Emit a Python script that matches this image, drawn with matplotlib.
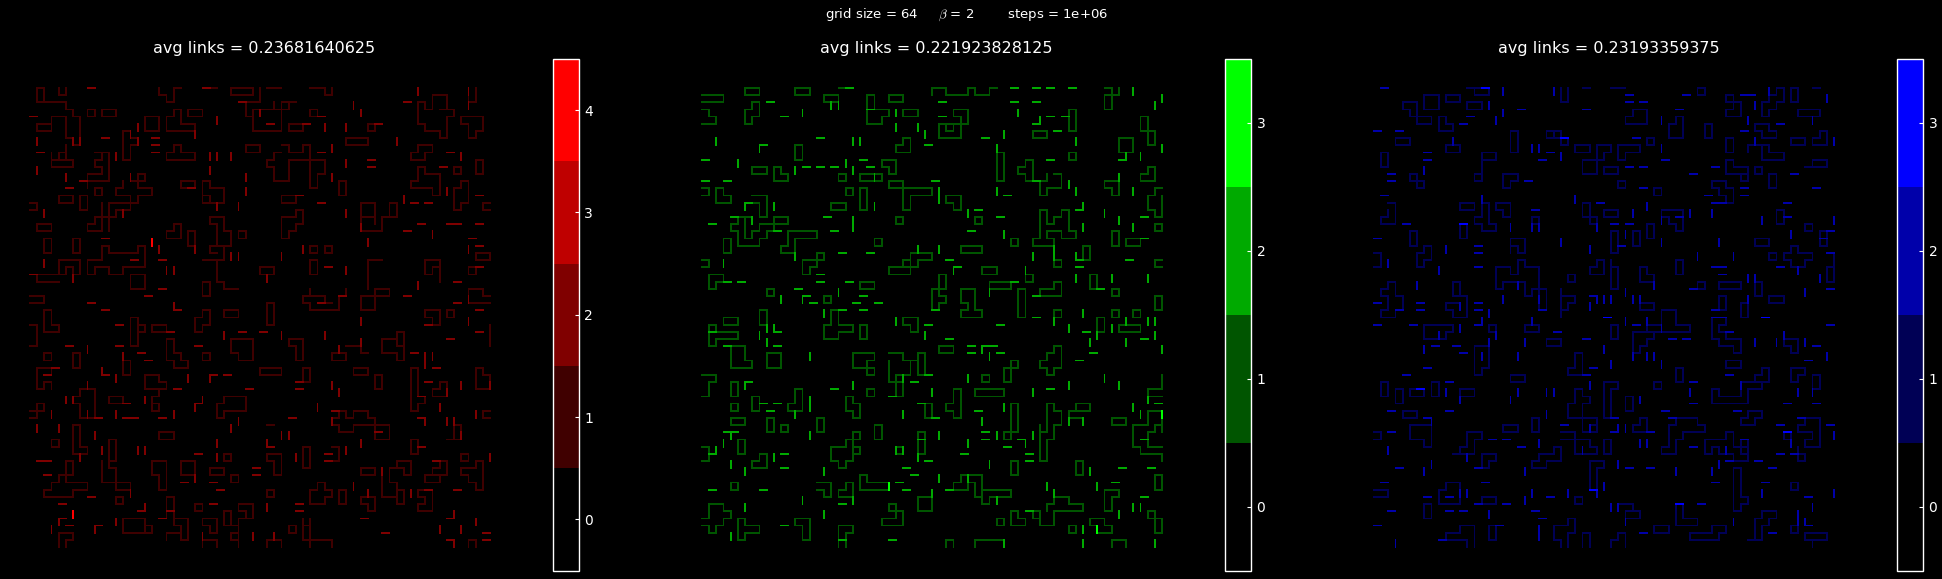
import numpy as np
import matplotlib
matplotlib.use("Agg")
import matplotlib.pyplot as plt
from matplotlib.colors import ListedColormap, BoundaryNorm
from matplotlib.cm import ScalarMappable

# links, as walks over the lattice: "col row moves"
red_loops = ["1 0 RDDLUU","2 2 RRRDRDRDDD","5 4 DDDRDRUUUU","3 4 RR","3 4 DD","1 5 RRDLL","1 5 D","4 0 DRU",
"18 0 DRDRUUR","25 0 R","28 0 RRRDLLLU","32 0 DDLL","30 2 DDRDDRRRRUUUURR","36 2 DLL","31 3 RRRU","31 3 D",
"33 0 RR","39 0 RRDRU","62 0 DDLU","54 2 RDRUURRDD","57 3 RRDLDDDLULLULUUU","54 2 DDD","39 3 RDLU","8 3 RDLU",
"10 3 RRDLLU","22 3 RRDLLU","20 3 RDDRRDLLLLUURU","16 4 RRDDLLUU","36 5 RRDLLU","47 5 RDLU","60 4 RRRDDLDLUULU",
"13 6 RDRDLDDLUUUU","19 9 RURDRRDLLLLU","3 9 DDRRRULLL","4 10 URU","5 8 DD","10 9 RDDDDLLL","8 12 RRULURUL","8 12 DD",
"15 12 RDLU","14 13 RDRRDLLDLULLURU","4 15 RRDLLU","7 15 RDDLUU","9 14 RDLU","0 16 RDL","1 19 RRDLLU",
"11 16 RRRDLLDLLLDLDRRUUUU","11 16 DDDD","21 13 RRDLLU","24 13 RDRRDDLLUL","24 13 DDDRU","30 8 RRDLLU","21 19 LDL","21 19 D",
"25 18 RRDDRDDLLLDR","27 22 DDL","25 18 D","25 19 RDDD","35 8 RDRRURDD","39 9 DDDDDRUURUULLLLL","36 10 DDDLLUULURUR",
"43 13 RDDLUU","44 7 RRRDLLLU","54 8 RRDLDLLURU","59 11 RDLU","62 10 RDDLUU","54 11 RDRRDDDLULLLURUU",
"60 13 RDDDLDLUUURU","64 16 LDR","46 16 RRDDLLUU","50 16 RDDLLDDLLLUUR","50 16 DD","48 19 U","35 15 RRDLLU","37 17 RDDLDLDLUUURRU",
"20 19 RDDLLURU","22 20 RDDLUU","2 21 RDDLUU","6 21 RDDLUU","29 20 RDLU","39 22 RDLU","41 22 RDLU","49 24 LLDDDD",
"39 24 RDDLUU","62 23 RRDLLU","55 24 RRDDD","55 24 DDRUR","61 25 RDLU",
"10 22 RDRRRRURDDDLLLDL","10 22 DDLLDDRURRDRRU","4 24 RRRDDLULD","4 24 DD","1 26 RRRRU","1 26 DRRR",
"14 26 RRDDLLUU","24 24 RRDDDRDRR","24 27 RDDLUU","32 25 RRDLLU",
"0 29 RRDLL","38 29 RRRDLRULLU","38 29 DRDRRRRUURU","38 29 RRRDR","46 29 RRDDLLUU","48 28 RRDLLU","48 28 DDD","61 28 RRDR","61 28 DDRRR","33 30 RDD","33 30 DD",
"2 31 RDDRDLLUUU","14 32 RDDDDLUUUU","15 33 RDLU","0 33 RDDDL","17 33 RRDLLU","24 31 RDDLDLUURU","27 31 RRDLLU",
"33 31 DDRUU","39 31 RRRR","46 31 RR","55 31 RRDDLULU","58 31 RDLU","64 33 DDD","49 35 RRDRDDLULLUU","51 34 RDDLUU",
"19 35 RDDRDRDLLULUUU","28 35 RRRDDDLLULUU","36 35 RRDDDLUULU","42 37 RRDLLU","44 36 R","45 36 RDR",
"13 38 RDDLUU","2 37 RDLU","6 37 RDDLUU","24 37 RDLU","1 39 RRDL","1 39 DDDRURD","16 40 RRDRDLLLUU","18 42 DL",
"17 43 D","17 44 RDLU","32 39 RRRDLLLU","38 39 RDDLUU","45 39 RRDLLU","48 40 RDDLUU","53 39 RDDDD","55 43 DLDLUUUUUU",
"62 39 RDRDDLLUUU","57 41 RDDLLURU","7 42 RRDDDDLLUULURU","8 45 D","11 43 RRDLLU","27 43 RRRDDLLLDLUURU",
"1 44 RDLL","1 44 DDL","43 45 RDRURRDRDD","45 47 RRRRRDDLLUU","45 47 DLLULU","43 45 DL","64 45 LDR","59 47 RDDLL","59 47 DD",
"33 47 R","18 48 RRDLLU","3 49 RDLU","6 47 RDDDRDLLUUUU","11 49 RDDDL","11 49 DDD","10 52 DDDRRRRDD","11 52 DRDDDRR",
"53 49 RDDLUU","33 31 D","27 51 RDLU","33 51 RRDDDLUULU","38 50 RDDDLUUU","42 50 RDDLL","60 51 RDLU","5 52 RDDLLDLDLDRRRRURRULLLUU",
"5 52 DD","17 52 RRDDDDLUULUU","21 52 RRDDLLUU","25 53 RRDLLU","28 54 RDLU","46 53 RRDLLU","49 54 DDDRR","50 53 RURRDDLULL","50 53 DDRDD",
"51 56 RDDLUU","57 52 RDDLLLDRRU","56 54 URU","62 52 RDDDDLULULURRU","33 56 RDLU","54 56 RRDDDLLURULU","40 55 RDRDLDLLUURU",
"43 56 RDDLUU","46 57 RRDDLULU","12 57 RDLU","23 58 RDLU","19 57 RDDDRRDDDLULLD","20 60 DRD","19 57 DDD","4 62 RRDLD","4 62 DD",
"13 60 RRRDDLLLUU","16 61 RDLU","24 60 RRDDLULU","27 59 RDDLUU","29 58 RRDDLLDDDD","29 58 DRD","27 61 RRDLDRD","33 64 URRD",
"36 61 RDLU","38 60 DDD","39 60 DDDD","38 61 R","38 63 RRRRD","61 64 URD","24 62 DD","24 63 RRD"]
red_h2 = [(8,0),(24,0),(29,2),(52,2),(40,4),(0,4),(33,5),(38,5),(48,5),(10,7),(17,7),(17,8),(17,9),(1,9),(58,9),(40,9),
(47,10),(47,11),(57,11),(7,13),(5,14),(22,14),(62,15),(53,16),(55,16),(37,15),(40,16),(54,19),(58,19),(59,19),(62,19),(52,20),
(10,21),(61,21),(62,22),(14,24),(18,24),(41,25),(62,25),(0,26),(59,27),(18,28),(16,29),(52,29),(43,29),(40,30),(8,30),(59,30),(20,31),(10,31),(62,31),(12,33),(19,34),
(55,33),(62,34),(29,34),(32,34),(58,35),(5,36),(12,36),(23,36),(37,41),(15,37),(16,38),(53,37),(3,39),(2,40),(10,40),(25,40),(27,40),
(56,39),(55,41),(20,42),(30,42),(37,42),(54,43),(13,44),(23,44),(9,46),(13,46),(14,46),(18,46),(36,46),(42,45),(54,46),(48,48),(33,50),(54,50),
(23,51),(41,51),(41,52),(1,52),(2,52),(2,54),(31,53),(31,54),(21,55),(25,55),(26,56),(59,56),(55,56),(56,52),(8,57),(4,58),(25,58),(37,58),(37,59),
(19,59),(18,60),(15,59),(4,60),(5,61),(9,61),(46,60),(58,60),(49,62),(63,62),(63,63),(58,63)]
red_v2 = [(54,0),(61,0),(61,2),(45,2),(46,3),(26,4),(32,3),(23,6),(41,5),(44,5),(15,5),(1,7),(6,7),(7,7),(14,6),(15,7),(51,7),(42,8),(25,9),(26,9),(28,9),
(12,9),(60,9),(44,10),(1,11),(25,11),(5,12),(30,12),(14,12),(42,12),(13,17),(58,14),(26,16),(29,16),(30,14),(52,15),(2,17),(44,17),(56,20),(46,19),(23,22),(18,22),
(61,22),(28,23),(29,23),(35,23),(38,22),(47,21),(44,25),(19,25),(2,24),(6,26),(20,25),(33,26),(54,27),(61,29),(20,30),(46,32),(61,32),(27,34),(35,34),(41,34),(8,36),(43,36),(46,35),
(13,37),(55,37),(55,38),(56,37),(10,39),(12,40),(22,40),(25,40),(64,41),(8,41),(42,41),(43,42),(60,41),(58,42),(6,43),(5,43),(16,43),(24,43),(23,44),(40,44),(57,44),(8,45),
(3,45),(12,45),(20,45),(62,45),(42,46),(29,46),(28,47),(1,47),(4,47),(58,46),(59,46),(55,46),(60,48),(9,48),(35,48),(36,48),(46,49),(33,49),(26,49),(10,50),(15,50),(16,50),
(44,50),(7,51),(26,51),(37,51),(64,51),(23,54),(49,53),(45,55),(47,56),(53,56),(14,56),(33,58),(16,58),(12,60),(4,60),(62,60),(59,59),(60,61),(57,61),(3,61),(9,61),(31,62),(34,62),(59,63),(24,62)]
red_v4 = [(17,21),(6,59)]

green_loops = ["6 0 RRDLLU","13 0 RRDLLU","19 0 R","32 0 RRDRRRU","32 0 D","37 0 RDRRUR","56 0 RDRU","56 1 RDDLUU","0 1 RRRDLLL",
"17 1 RRDLLU","23 1 RDDLUU","24 3 RRDLDLLUU","26 1 RRDLLU","7 2 RDDLDLUURU","0 3 RDRDLL","28 3 RRDLLU",
"35 3 RRDDLLLLDDRRRUU","35 3 DRD","34 5 DRU","51 3 RDDDLUUU","61 4 RDDLUU","61 6 RR","62 6 RDDLUU","46 6 RRDLLU","28 7 RDDLLURU",
"58 7 RRDDLLUU","13 8 RDDLUU","41 9 RDDDDLUUUU","51 9 RDLU","25 10 RRDDLULU","45 10 RDDDLULURU","7 11 RRDLLU","10 11 RDRDLLUU",
"62 11 RDDLLURU","19 12 RDLU","22 12 RRRDLLLU","49 12 RDDLLDLUURU","26 13 RRDLLU","28 14 RRRRDLLLDDLUUU","56 13 RRDDLULU","0 14 RDL",
"2 14 RDRDLLUU","20 14 RDLU","22 14 RDDDLUUU","64 14 LDLDDRDRUUU","34 15 RRDDLULU","7 15 RRDDDLUUL","18 16 RRDLLU",
"5 18 RR","5 18 DLDRDDRRRURURR","6 18 DDDRURURRURRDLLD","27 18 RDLU","38 18 RDLU","47 17 RDDRURURDDDRDLLULLDRD","47 17 DDDDLDRRR","63 19 RDLU",
"12 20 RRRRDLLLDDLLURUU","57 20 RDDLUU","3 21 RDDLUU","24 21 RDLU","43 21 RDLU","59 21 RRDLLU","36 22 RRRDLLLU",
"29 23 RRRDLLDLL","29 23 DDD","29 24 LDLLDRRR","16 23 RDL","16 23 DDLDLUURR","53 22 RDDLUU","0 24 RDL","49 24 RDLU","64 24 LDR",
"39 25 RRDLLU","45 26 RDLU","1 26 RRDLDLUU","22 27 RRDLLU","54 26 RDDLUU","33 26 RDDLLDDDRURULU","33 26 DDD","40 27 RRRDLLLU",
"49 27 RDDLLLURRU","9 28 RDLU","36 28 RRDDDRDLLLURULUU","44 28 RDDDDLUUUU","17 29 RDLU","57 28 RDLU","63 29 RDDLUU","18 31 RDDRRDLLDLLUURUU",
"8 31 RDDLUU","49 31 RDLU","57 31 RDLU","60 31 RDLU","18 31 D","22 33 RDDLUU","28 32 RRDDLULU","36 31 DRRRUL","3 32 RRDLLU",
"55 32 RDDLUU","58 33 RRRDLLLU","1 33 RDLU","1 34 RRRRDLLLDLUU","4 36 RRDDRDLLLUUU","9 37 RRDDLLUU","33 36 RRDLLU","21 37 RRRDLDDRULLLUU",
"26 37 RRDRRDDRUUULDLDDLLDLUUU","43 38 RDLLDDRUUU","49 36 RDDDLDLULURURU","0 40 RRDLDDL","4 41 RDDLUU","39 40 RDLU","27 41 RDDLUU",
"23 42 RDLU","35 42 RDDDDLULURUU","38 42 RRRRDLLLLU","64 40 DDLLDRR","7 43 RDDLUU","13 42 RDDDLLURUU","4 44 RDLU","20 43 RDRDDLULUU",
"31 44 RDDLUU","43 44 RDDDDLLDRU","43 44 DDDD","48 44 RDRDDLDDLDDDLUUUUU","48 44 DDDDL","52 44 RRDLLLDD","52 44 D","51 46 RR","57 46 RRDLLU",
"4 46 RRDLLU","9 46 RDDLUU","11 47 RDLU","16 46 RDDLUU","24 47 RDDLUU","5 49 RDDLUU","30 48 RDDDLUUU","21 48 RDLLDLLDDRDRURUUUU","21 50 RDL",
"64 45 LLDDLLDDDRDRRRD","64 46 DD","64 47 LDLDDRR","0 50 RDDL","8 51 RDDLLURU","27 50 RDLU","43 52 RDDLUU","52 52 RDDLUU","57 46 D",
"63 54 RDDLUU","22 54 RDRRR","22 54 DDRRRR","36 54 RRRDDDDRURRRULLLL","36 54 DLDRRUU","37 55 RDDR","4 55 RDLU","30 57 RRDDLLUU","16 55 RRDDLUL",
"20 55 RDDLLURU","56 56 RRDLDDLUUU","49 57 RRDRRDLLLLDDLLUU","46 59 RDLU","48 59 URUU","43 59 RDRDLLUU","41 60 RDLU","1 58 RRDRDLDLDLUL","1 58 DDL",
"5 60 RDRRDLLDLUUU","13 60 RRDDDLUULU","19 61 RRDLDD","19 61 DDD","26 58 RDRDDLLLURRUU","26 58 DR","34 63 RD","34 63 D","38 63 RRRRD","38 63 D",
"57 63 RRD","57 63 D","54 60 RRDRDLL","54 60 DR","51 61 RDLU","62 59 RDDDRUUL","62 59 DR"]
green_h2 = [(20,0),(43,0),(46,0),(48,0),(51,0),(9,2),(33,2),(43,2),(46,2),(11,4),(33,4),(48,4),(50,4),(46,5),(49,6),(16,7),(39,7),(8,8),(31,8),
(0,10),(22,10),(48,10),(58,10),(14,11),(16,11),(18,11),(23,11),(0,13),(3,13),(32,13),(46,13),(42,15),(6,16),(38,17),(52,17),(4,18),(17,18),(41,18),(61,18),
(1,19),(18,20),(37,20),(10,20),(61,21),(19,23),(23,23),(52,24),(34,24),(59,24),(52,25),(35,25),(16,26),(3,27),(5,27),(16,27),(20,27),(43,27),(55,28),(13,28),
(46,29),(14,29),(22,29),(15,30),(21,30),(24,30),(19,31),(22,31),(32,31),(46,32),(10,34),(53,34),(61,35),(1,34),(3,36),(34,35),(10,36),(37,36),(37,37),(39,36),
(40,36),(41,37),(31,33),(41,33),(54,37),(52,38),(31,40),(29,41),(6,41),(26,43),(18,42),(48,42),(8,44),(10,44),(9,45),(30,44),(63,44),(38,45),(32,46),(61,49),
(3,48),(4,48),(39,48),(39,49),(42,50),(36,51),(44,49),(1,51),(11,51),(11,53),(31,52),(45,51),(28,53),(29,54),(45,52),(58,53),(62,53),(57,55),(27,55),(28,56),
(34,56),(1,56),(8,56),(61,57),(19,58),(45,59),(11,61),(19,63),(26,63),(30,49),(23,3)]
green_v2 = [(60,0),(18,2),(19,2),(64,1),(63,2),(14,3),(27,3),(44,3),(47,4),(27,5),(30,5),(31,6),(42,6),(2,7),(21,7),(22,7),(52,7),(8,8),(41,8),(64,8),(59,9),(61,9),
(5,10),(20,10),(13,11),(21,11),(24,12),(58,12),(51,13),(41,14),(52,14),(60,14),(33,14),(33,15),(6,16),(10,16),(24,16),(53,16),(37,17),(56,17),(58,18),(7,18),(21,18),
(21,19),(53,19),(60,19),(42,20),(33,22),(30,22),(49,22),(49,23),(13,23),(46,23),(52,23),(3,24),(35,25),(45,25),(52,26),(57,26),(62,26),(40,28),(19,28),(11,29),(14,29),
(17,31),(53,31),(49,32),(27,32),(59,32),(62,32),(63,32),(9,33),(51,33),(57,33),(10,33),(31,34),(63,34),(8,34),(55,34),(9,35),(54,35),(59,35),(64,36),(40,37),(39,36),
(15,37),(56,40),(28,40),(37,40),(21,41),(51,41),(58,41),(6,41),(32,42),(46,42),(15,43),(15,44),(62,43),(13,45),(28,45),(42,44),(60,44),(61,45),(39,46),(51,46),(53,46),
(4,48),(3,49),(15,48),(33,48),(41,48),(46,48),(37,49),(45,49),(27,50),(28,50),(2,50),(30,51),(10,51),(4,52),(6,53),(17,53),(40,52),(54,53),(33,54),(37,54),(48,55),(55,55),
(32,56),(49,56),(14,57),(21,57),(17,59),(6,58),(60,58),(61,58),(58,59),(41,57),(4,62),(53,61),(42,63),(53,63),(63,63)]
green_v3 = [(26,55),(55,61),(64,45)]

blue_loops = ["13 0 RRR","14 0 DRRU","26 0 DDRUU","29 0 R","33 0 RR","45 0 RDLU","49 1 RDLU","56 0 RDDLDLDLUUR","56 0 DLD","56 2 DLDL","58 0 RDDLUU","61 0 R",
"7 1 RRDDLLUU","10 1 RRDLLU","13 2 RRDLLU","4 2 RRDDRRDLLULULU","50 2 RDDLLURU","36 3 RRDDLLLURU","42 4 RDDDLLUURU","59 3 RRRDLLLU","9 4 RDRDLLUU",
"19 6 RDDDLUUU","24 6 RRDLLU","25 6 D","26 7 DRU","53 5 RRDRDLLULU","46 5 RDDLUU","58 7 RRDLLU","62 6 RDDLLURU","3 7 RRDLLU","10 8 RRDLLU","11 7 D",
"38 7 RDLU","49 7 RDDLUU","28 8 RRDLLU","31 8 RRDLDLLLDDRRUU","31 8 DD","34 8 RRRDLLDLUU","54 8 RDRRDLLLUU","52 8 RRDDRR","52 8 D","1 9 RDDLUU",
"15 9 RRDLLU","15 10 DDLDRU","32 11 RRDLLU","49 10 RDRRDLLLUU","51 12 DRU","53 11 RDLU","61 10 RRDLLU","60 11 R","5 12 RDRDLULU","18 12 RRDLDLUU",
"34 13 RDLU","55 12 RDDLUU","47 13 RRDRDDLULULU","49 16 R","39 14 RDLU","2 16 RDDDLLURU","12 16 RRDLLU","15 16 RDDDRDLLULURUU","17 16 RRDDLULU",
"29 16 RDDLUU","30 18 RDLU","32 17 RRDLLU","40 17 RRRDDDLULULU","22 18 RDD","22 18 DD","22 19 R","56 17 RDDLUU","60 19 RDLU","12 19 RDDLUU",
"38 19 RDDLUU","5 20 RDDLUU","33 20 RDDDLUUU","36 20 RDDLUU","53 21 RRDLLU","62 20 RDDLUU","19 21 RRDDLULU","19 21 DD","7 22 RDDLDLUURU","0 23 RDDL",
"55 23 RDLU","58 22 RDRRDLDLLULURU","64 23 DDLDDRUU","31 24 RDDLLURU","33 24 DDDD","33 25 RDDDL","42 24 RDDLUU","37 25 RDRDD","37 25 DDRR",
"17 25 RRDRUURDRRDDDD","22 28 RRDDDLUU","22 28 DLUULLLDLUUU","27 26 RDLU","2 27 RDDRDDLDLLURUULURU","11 27 RDDLUU","12 29 RDDDLLULURRD",
"26 29 RRDLDLUUU","26 29 DDD","37 30 RRDLLU","40 31 RRDD","40 31 DD","45 27 RDLU","48 27 RRRDLLLU","53 27 RDDLUU","55 29 RRDLLU","48 29 RDDLUU","51 30 RDDLUU",
"40 31 RRDDRRDLLLLLLLLDDDRURURU","38 33 RR","38 33 D","7 33 RRRRDLDLLLUU","16 33 RDLU","21 33 RRDLLU","33 33 RDDLUU",
"24 35 RRDLLU","47 32 RRDLDRDRRDDLULLULUUU","57 35 RRDDLULU","14 36 RRDDDLDLUUUU","28 37 RDDDLLURUU","19 40 RRDLLU","49 38 RRDLLU","42 39 RDDLUU",
"54 39 RDDLLLLDDLLLULDDRRRRRUURRU","54 39 DLD","58 39 RRDLDLUU","61 40 RDDLUU","1 41 RDDLUU","3 42 RDDLUU","5 42 RRDLLU","8 41 RDDLUU","12 42 RRDLLU",
"32 41 RRDLDDDDLUUUUU","39 41 RDLU","35 43 RDDLUU","28 42 RDRDLDD","28 42 DDLDDRRRRDD","29 46 DDRR","30 47 R","4 45 RRDLLU","52 45 RRDLDLLURU",
"5 47 RRRDDDLULLUU","22 46 RDDLUU","18 47 RRDLLU","37 46 RDDLLURU","41 46 RRRRDRDLLLDLDDLLURUUURU","60 46 RRDDDDLLURULLURU","0 48 RDLL","0 48 R",
"13 48 RRDLDDLLL","13 48 DDLD","26 48 RRDRR","26 49 RRRRDRDLLLUU","32 49 RDDLUU","49 48 DLLLDDRURDRRDRRUUU","51 49 DDR","49 48 RDDRR","57 48 RDLU",
"59 51 RDLUU","23 51 RRURDDLLDLLURU","15 51 RRDLDLUU","30 52 RRDLDDD","30 52 DDDD","50 53 RDDDDRDLDLUUUUUU","10 55 RRDDDLLLUURU","58 55 RDLU","0 56 RRDLL",
"28 57 RDLU","15 57 RRDLLU","42 58 DDDRRRULLUU","34 58 RRDRDLLURR","7 58 RDDLUU","54 59 RRDLDLDDLL","53 60 RU","53 60 DDD","12 61 RRDDD","12 61 DLLDRRRD",
"16 61 RDDLUU","27 60 RDDLDD","27 60 DLLDDRD","39 61 RRDLLU","47 61 RRDLDLLLLURRRU","58 61 RDLU","60 62 RRRDLLD","60 62 DR","29 64 UURDD","34 62 RDD","34 62 DLD"]
blue_h2 = [(1,0),(35,1),(35,2),(37,2),(43,1),(51,1),(52,1),(20,3),(29,3),(42,3),(13,4),(12,5),(56,5),(51,6),(0,6),(3,6),(36,7),(24,9),(7,9),(7,10),(23,10),(40,10),
(35,11),(37,11),(47,11),(44,12),(2,12),(58,12),(2,13),(21,13),(37,14),(51,14),(61,14),(1,15),(46,15),(51,15),(31,16),(57,16),(47,16),(48,16),(4,19),(33,19),(35,19),(22,17),
(42,18),(57,18),(0,21),(34,22),(14,22),(14,23),(62,21),(63,20),(63,23),(14,25),(47,25),(48,25),(56,25),(48,26),(44,28),(63,28),(0,30),(6,30),(6,31),(14,30),(14,31),(47,31),(47,32),(48,32),
(23,31),(30,29),(3,31),(49,34),(0,33),(5,33),(14,33),(36,33),(25,34),(29,35),(41,35),(43,35),(61,36),(63,33),(8,36),(11,36),(12,37),(60,38),(7,39),(30,39),(4,40),(49,40),(29,40),
(10,41),(44,41),(44,44),(57,44),(61,44),(2,45),(10,45),(40,45),(50,45),(7,46),(26,47),(56,47),(63,47),(38,48),(41,46),(59,46),(33,46),(33,48),(2,48),(16,49),(18,49),(20,50),(44,50),
(51,49),(49,52),(53,52),(58,51),(56,51),(3,53),(14,53),(35,53),(55,53),(1,55),(15,55),(47,55),(54,55),(38,53),(7,57),(10,57),(24,57),(60,57),(14,58),(18,58),(45,58),(2,59),(12,59),(10,59),(22,59),(23,60),
(0,61),(17,61),(37,62),(55,62),(9,63),(60,61)]
blue_v2 = [(18,0),(25,0),(55,0),(63,1),(16,2),(18,3),(53,2),(40,4),(52,4),(61,4),(17,4),(64,7),(53,7),(11,7),(22,8),(23,8),(26,9),(40,8),(7,11),(15,15),(28,15),(38,16),(36,17),(44,17),(47,17),(40,18),(54,18),
(64,18),(31,19),(19,19),(22,19),(23,19),(35,20),(58,20),(26,21),(40,21),(48,21),(10,22),(30,22),(2,24),(45,23),(50,23),(9,25),(59,25),(62,26),(52,26),(53,26),(6,27),(20,27),(39,27),(60,28),
(18,29),(35,28),(31,29),(32,29),(33,29),(36,29),(37,29),(52,29),(12,30),(30,30),(16,31),(23,29),(16,35),(22,32),(15,32),(35,32),(12,33),(9,34),(17,34),(40,33),(38,32),(36,37),(38,37),(39,37),(40,38),(33,38),(21,35),(53,35),(56,35),
(57,34),(60,35),(7,36),(32,36),(20,37),(15,37),(63,37),(10,42),(20,42),(24,42),(25,42),(30,41),(37,43),(44,42),(51,41),(59,42),(61,42),(12,43),(19,43),(24,45),(34,47),(35,47),(30,47),(8,46),(64,48),
(23,49),(37,49),(38,49),(2,50),(49,50),(29,50),(58,49),(13,51),(8,52),(7,53),(21,53),(34,52),(42,53),(47,53),(48,52),(32,55),(31,56),(12,56),(13,56),(22,56),(27,56),(21,57),(54,56),(64,56),(61,58),(33,58),(34,58),(16,59),(35,60),
(59,59),(59,60),(50,60),(23,61),(23,62),(3,63),(60,60)]
blue_h3 = [(15,0),(26,7),(12,19),(6,42),(57,48),(42,58),(30,56),(32,32),(54,32)]

panels = [
    (red_loops, red_h2, red_v2, [], red_v4, 4, (1, 0, 0), "avg links = 0.23681640625"),
    (green_loops, green_h2, green_v2, [], green_v3, 3, (0, 1, 0), "avg links = 0.221923828125"),
    (blue_loops, blue_h2, blue_v2, blue_h3, [], 3, (0, 0, 1), "avg links = 0.23193359375"),
]
ax_left = [9, 681, 1353]
grid_left = [30.3, 702.0, 1374.3]
cb_left = [552.5, 1225, 1897]

W, H = 1942, 579
SITE = 4


def mark(img, c, r, horiz, level):
    if horiz:
        if 0 <= r <= 64 and 0 <= c < 64:
            a = img[r * SITE, c * SITE:(c + 1) * SITE + 1]
            a[a < level] = level
    else:
        if 0 <= c <= 64 and 0 <= r < 64:
            a = img[r * SITE:(r + 1) * SITE + 1, c * SITE]
            a[a < level] = level


def build(loops, h2, v2, h_top, v_top, top):
    img = np.zeros((64 * SITE + 1, 64 * SITE + 1))
    for s in loops:
        parts = s.split()
        c, r = int(parts[0]), int(parts[1])
        for m in parts[2] if len(parts) > 2 else "":
            if m == "R":
                mark(img, c, r, True, 1)
                c += 1
            elif m == "L":
                c -= 1
                mark(img, c, r, True, 1)
            elif m == "D":
                mark(img, c, r, False, 1)
                r += 1
            elif m == "U":
                r -= 1
                mark(img, c, r, False, 1)
    for c, r in h2:
        mark(img, c, r, True, 2)
    for c, r in v2:
        mark(img, c, r, False, 2)
    for c, r in h_top:
        mark(img, c, r, True, 3)
    for c, r in v_top:
        mark(img, c, r, False, top)
    return img


fig = plt.figure(figsize=(W / 100, H / 100), dpi=100, facecolor="black")
fig.text(967 / W, 1 - 15 / H, "grid size = 64     $\\beta$ = 2        steps = 1e+06",
         color="white", fontsize=9.5, ha="center", va="center", math_fontfamily="cm")

for i, (loops, h2, v2, h_top, v_top, top, rgb, title) in enumerate(panels):
    img = build(loops, h2, v2, h_top, v_top, top)
    colors = [(rgb[0] * k / top, rgb[1] * k / top, rgb[2] * k / top) for k in range(top + 1)]
    cmap = ListedColormap(colors)
    norm = BoundaryNorm(np.arange(top + 2) - 0.5, cmap.N)

    ax = fig.add_axes([ax_left[i] / W, 1 - 570 / H, 511 / W, 511 / H])
    ax.imshow(img, cmap=cmap, norm=norm, interpolation="nearest",
              extent=(-0.125, 64.125, 64.125, -0.125), aspect="auto")
    pitch_x, pitch_y = 7.18, 7.17
    x0 = grid_left[i] - ax_left[i]
    ax.set_xlim(-x0 / pitch_x, (511 - x0) / pitch_x)
    ax.set_ylim((570 - 88) / pitch_y, (59 - 88) / pitch_y)
    ax.axis("off")
    ax.set_title(title, color="white", fontsize=11.5, pad=4)

    cax = fig.add_axes([cb_left[i] / W, 1 - 570.5 / H, 26 / W, 511.5 / H])
    sm = ScalarMappable(norm=norm, cmap=cmap)
    cb = fig.colorbar(sm, cax=cax, ticks=np.arange(top + 1))
    cb.ax.tick_params(direction="in", length=3, color="white", labelcolor="white", labelsize=10, pad=4)
    cb.outline.set_edgecolor("white")
    cb.outline.set_linewidth(1)

fig.savefig("out.png", dpi=100, facecolor="black")
